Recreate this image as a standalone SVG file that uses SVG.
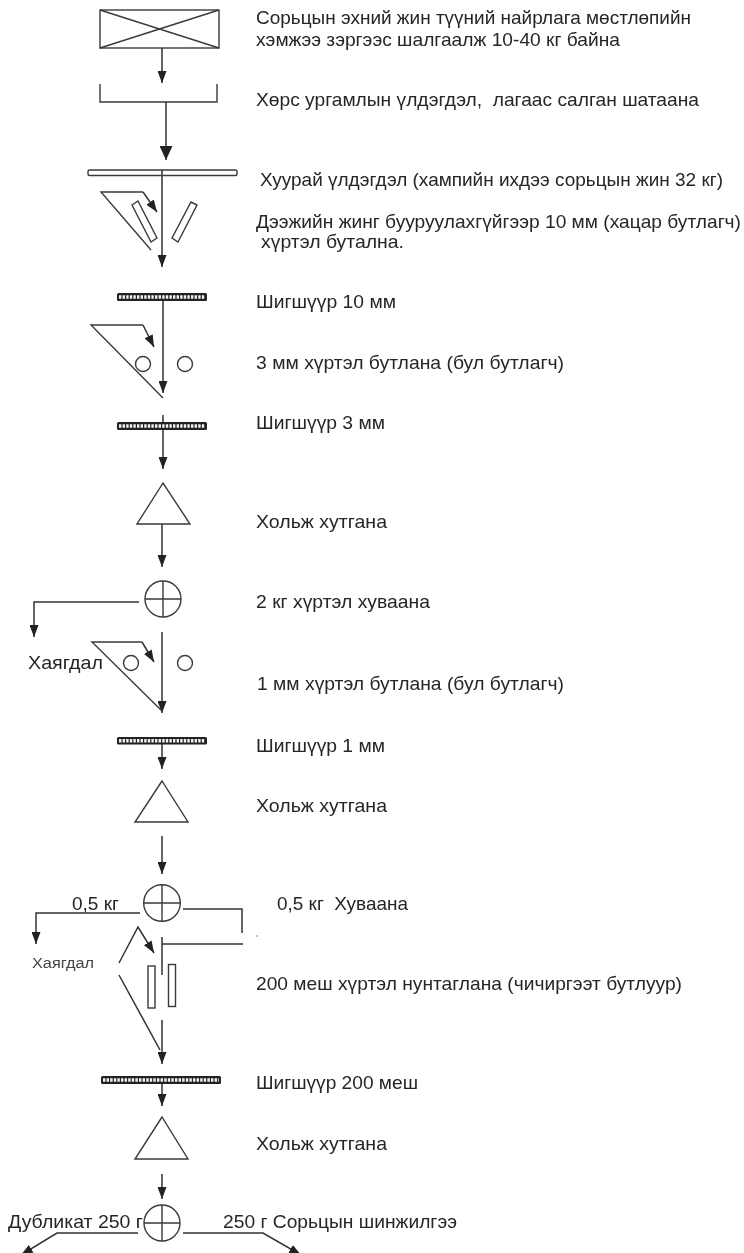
<svg xmlns="http://www.w3.org/2000/svg" width="744" height="1253" viewBox="0 0 744 1253">
<style>
text{font-family:"Liberation Sans",Arial,sans-serif;font-size:18.5px;fill:#262626}
.sm{font-size:15.5px;fill:#444}
.s{fill:none;stroke:#3a3a3a;stroke-width:1.4}
.c{fill:none;stroke:#333;stroke-width:1.5}
.a{marker-end:url(#ah)}
.b{marker-end:url(#ab)}
.sb{fill:#222}
.sd{stroke:#f2f2f2;stroke-width:3.4;stroke-dasharray:2.400 1.200;fill:none}
</style>
<defs>
<marker id="ah" markerUnits="userSpaceOnUse" markerWidth="13" markerHeight="9" refX="12" refY="4.500" orient="auto"><path d="M0,0L12,4.500L0,9Z" fill="#222"/></marker>
<marker id="ab" markerUnits="userSpaceOnUse" markerWidth="15" markerHeight="13" refX="14" refY="6.500" orient="auto"><path d="M0,0L14,6.500L0,13Z" fill="#222"/></marker>
<filter id="soft" x="0" y="0" width="100%" height="100%"><feGaussianBlur stdDeviation="0.400"/></filter>
</defs>
<rect width="744" height="1253" fill="#fff"/>
<g filter="url(#soft)">
<g id="connectors">
<path class="c a" d="M162,48V83"/>
<path class="c b" d="M166,102V160"/>
<path class="c a" d="M162,170V267"/>
<path class="c a" d="M143,192L157,212"/>
<path class="c a" d="M163,300V393"/>
<path class="c a" d="M143,325L154,347"/>
<path class="c a" d="M163,415V469"/>
<path class="c a" d="M162,524V567"/>
<path class="c a" d="M139,602H34V637"/>
<path class="c a" d="M162,632V713"/>
<path class="c a" d="M142,642L154,662"/>
<path class="c a" d="M162,744V769"/>
<path class="c a" d="M162,836V874"/>
<path class="c a" d="M140,913H36V944"/>
<path class="c" d="M183,909H242V933"/>
<path class="c" d="M243,944H162"/>
<path class="c" d="M162,937V975"/>
<path class="c a" d="M119,963L138,927L154,953"/>
<path class="c" d="M119,975L160,1050"/>
<path class="c a" d="M162,1020V1064"/>
<path class="c a" d="M162,1084V1106"/>
<path class="c a" d="M162,1174V1199"/>
<path class="c a" d="M138,1233H57L21,1255"/>
<path class="c a" d="M183,1233H263L301,1255"/>
</g>
<g id="n1"><rect class="s" x="100" y="10" width="119" height="38"/><path class="s" d="M100,10L219,48M219,10L100,48"/><text x="256" y="24" textLength="435" lengthAdjust="spacingAndGlyphs">Сорьцын эхний жин түүний найрлага мөстлөпийн</text><text x="256" y="46" textLength="364" lengthAdjust="spacingAndGlyphs">хэмжээ зэргээс шалгаалж 10-40 кг байна</text></g>
<g id="n2"><path class="s" d="M100,84V102H217V84"/><text x="256" y="106" textLength="443" lengthAdjust="spacingAndGlyphs" xml:space="preserve">Хөрс ургамлын үлдэгдэл,  лагаас салган шатаана</text></g>
<g id="n3"><rect class="s" x="88" y="170" width="149" height="5.500" rx="1.500"/><text x="260" y="186" textLength="463" lengthAdjust="spacingAndGlyphs">Хуурай үлдэгдэл (хампийн ихдээ сорьцын жин 32 кг)</text></g>
<g id="n4"><path class="s" d="M143,192H101L151,250"/><polygon class="s" points="132,205 138,201 157,238 151,242"/><polygon class="s" points="191,202 197,205 178,242 172,238"/><text x="256" y="228" textLength="485" lengthAdjust="spacingAndGlyphs">Дээжийн жинг бууруулахгүйгээр 10 мм (хацар бутлагч)</text><text x="261" y="248" textLength="143" lengthAdjust="spacingAndGlyphs">хүртэл буталнa.</text></g>
<g id="n5"><rect class="sb" x="117" y="293" width="90" height="8" rx="1.500"/><path class="sd" d="M119,297H205"/><text x="256" y="308" textLength="140" lengthAdjust="spacingAndGlyphs">Шигшүүр 10 мм</text></g>
<g id="n6"><path class="s" d="M143,325H91L163,398"/><circle class="s" cx="143" cy="364" r="7.500"/><circle class="s" cx="185" cy="364" r="7.500"/><text x="256" y="369" textLength="308" lengthAdjust="spacingAndGlyphs">3 мм хүртэл бутлана (бул бутлагч)</text></g>
<g id="n7"><rect class="sb" x="117" y="422" width="90" height="8" rx="1.500"/><path class="sd" d="M119,426H205"/><text x="256" y="429" textLength="129" lengthAdjust="spacingAndGlyphs">Шигшүүр 3 мм</text></g>
<g id="n8"><polygon class="s" points="163,483 137,524 190,524"/><text x="256" y="528" textLength="131" lengthAdjust="spacingAndGlyphs">Хольж хутгана</text></g>
<g id="n9"><circle class="s" cx="163" cy="599" r="18"/><path class="s" d="M145,599H181M163,581V617"/><text x="256" y="608" textLength="174" lengthAdjust="spacingAndGlyphs">2 кг хүртэл хуваана</text></g>
<g id="n10"><path class="s" d="M142,642H92L162,711"/><circle class="s" cx="131" cy="663" r="7.500"/><circle class="s" cx="185" cy="663" r="7.500"/><text x="28" y="669" textLength="75" lengthAdjust="spacingAndGlyphs">Хаягдал</text><text x="257" y="690" textLength="307" lengthAdjust="spacingAndGlyphs">1 мм хүртэл бутлана (бул бутлагч)</text></g>
<g id="n11"><rect class="sb" x="117" y="737" width="90" height="7.500" rx="1.500"/><path class="sd" d="M119,740.800H205"/><text x="256" y="752" textLength="129" lengthAdjust="spacingAndGlyphs">Шигшүүр 1 мм</text></g>
<g id="n12"><polygon class="s" points="162,781 135,822 188,822"/><text x="256" y="812" textLength="131" lengthAdjust="spacingAndGlyphs">Хольж хутгана</text></g>
<g id="n13"><circle class="s" cx="162" cy="903" r="18.300"/><path class="s" d="M144,903H180M162,885V921"/><text x="72" y="910" textLength="47" lengthAdjust="spacingAndGlyphs">0,5 кг</text><text x="277" y="910" textLength="131" lengthAdjust="spacingAndGlyphs" xml:space="preserve">0,5 кг  Хуваана</text><circle cx="257" cy="936" r="0.800" fill="#666"/></g>
<g id="n14"><rect class="s" x="148" y="966" width="7" height="42"/><rect class="s" x="168.500" y="964.500" width="7" height="42"/><text class="sm" x="32" y="968" textLength="62" lengthAdjust="spacingAndGlyphs">Хаягдал</text><text x="256" y="990" textLength="426" lengthAdjust="spacingAndGlyphs">200 меш хүртэл нунтаглана (чичиргээт бутлуур)</text></g>
<g id="n15"><rect class="sb" x="101" y="1076" width="120" height="8" rx="1.500"/><path class="sd" d="M103,1080H219"/><text x="256" y="1089" textLength="162" lengthAdjust="spacingAndGlyphs">Шигшүүр 200 меш</text></g>
<g id="n16"><polygon class="s" points="162,1117 135,1159 188,1159"/><text x="256" y="1150" textLength="131" lengthAdjust="spacingAndGlyphs">Хольж хутгана</text></g>
<g id="n17"><circle class="s" cx="162" cy="1223" r="18"/><path class="s" d="M144,1223H180M162,1205V1241"/><text x="8" y="1228" textLength="135" lengthAdjust="spacingAndGlyphs">Дубликат 250 г</text><text x="223" y="1228" textLength="234" lengthAdjust="spacingAndGlyphs">250 г Сорьцын шинжилгээ</text></g>
</g>
</svg>
